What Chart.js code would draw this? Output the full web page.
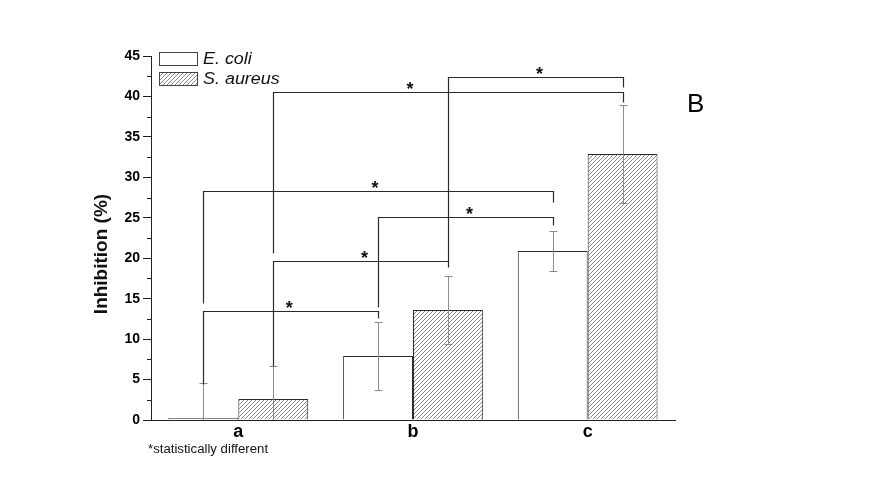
<!DOCTYPE html>
<html>
<head>
<meta charset="utf-8">
<script src="https://cdn.jsdelivr.net/npm/chart.js@4.4.0/dist/chart.umd.min.js"></script>
<style>
  html, body { margin: 0; padding: 0; background: #fff; }
  #wrap { width: 869px; height: 489px; position: relative; }
</style>
</head>
<body>
<div id="wrap"><canvas id="chart"></canvas></div>
<script>
// values
const categories = ['a', 'b', 'c'];
const seriesNames = ['E. coli', 'S. aureus'];
const ecoli = [0.25, 7.9, 20.9];
const saureus = [2.6, 13.6, 32.9];
const ecoliErr = [4.3, 4.2, 2.45];
const saureusErr = [4.1, 4.2, 6.1];

// significance brackets, each end is [dataset, category]
const bracketFrom = [[0, 0], [1, 0], [0, 1], [0, 0], [1, 0], [1, 1]];
const bracketTo = [[0, 1], [1, 1], [0, 2], [0, 2], [1, 2], [1, 2]];
const bracketLevel = [13.5, 19.6, 25.1, 28.35, 40.6, 42.35];
const bracketFromEnd = [4.5, 6.7, 14.0, 14.5, 20.6, 19.6];
const bracketToEnd = [12.6, 18.9, 24.1, 26.9, 39.3, 41.2];
const starAt = [0.49, 0.52, 0.52, 0.49, 0.39, 0.52];

const FONT = "'Liberation Sans', Arial, sans-serif";
const ERRS = [ecoliErr, saureusErr];

// hatch fill for S. aureus
function hatch() {
  const c = document.createElement('canvas');
  c.width = 4; c.height = 4;
  const g = c.getContext('2d');
  g.fillStyle = '#fff';
  g.fillRect(0, 0, 4, 4);
  g.strokeStyle = '#8a8a8a';
  g.lineWidth = 1;
  g.beginPath();
  g.moveTo(-1, 5); g.lineTo(5, -1);
  g.moveTo(-1, 1); g.lineTo(1, -1);
  g.moveTo(3, 5); g.lineTo(5, 3);
  g.stroke();
  return g.createPattern(c, 'repeat');
}
const hatchFill = hatch();

const errorBars = {
  id: 'errorBars',
  afterDatasetsDraw(chart) {
    const ctx = chart.ctx, y = chart.scales.y, area = chart.chartArea;
    ctx.save();
    ctx.beginPath();
    ctx.rect(area.left, area.top - 20, area.right - area.left, area.bottom - area.top + 20);
    ctx.clip();
    ctx.strokeStyle = '#8c8c8c';
    ctx.lineWidth = 1;
    chart.data.datasets.forEach((ds, i) => {
      chart.getDatasetMeta(i).data.forEach((el, j) => {
        const x = Math.round(el.x) + 0.5;
        const top = Math.round(y.getPixelForValue(ds.data[j] + ERRS[i][j])) + 0.5;
        const bot = Math.round(y.getPixelForValue(ds.data[j] - ERRS[i][j])) + 0.5;
        ctx.beginPath();
        ctx.moveTo(x, top); ctx.lineTo(x, bot);
        ctx.moveTo(x - 4, top); ctx.lineTo(x + 4, top);
        ctx.moveTo(x - 4, bot); ctx.lineTo(x + 4, bot);
        ctx.stroke();
      });
    });
    ctx.restore();
  }
};

const brackets = {
  id: 'brackets',
  afterDatasetsDraw(chart) {
    const ctx = chart.ctx, y = chart.scales.y;
    const px = (p) => Math.round(chart.getDatasetMeta(p[0]).data[p[1]].x) + 0.5;
    const py = (v) => Math.round(y.getPixelForValue(v)) + 0.5;
    ctx.save();
    ctx.strokeStyle = '#2a2a2a';
    ctx.lineWidth = 1.2;
    ctx.fillStyle = '#111';
    ctx.font = 'bold 18px ' + FONT;
    ctx.textAlign = 'center';
    ctx.textBaseline = 'alphabetic';
    bracketLevel.forEach((lv, k) => {
      const x1 = px(bracketFrom[k]), x2 = px(bracketTo[k]), yl = py(lv);
      ctx.beginPath();
      ctx.moveTo(x1, py(bracketFromEnd[k]));
      ctx.lineTo(x1, yl);
      ctx.lineTo(x2, yl);
      ctx.lineTo(x2, py(bracketToEnd[k]));
      ctx.stroke();
      ctx.fillText('*', x1 + (x2 - x1) * starAt[k], yl + 2);
    });
    ctx.restore();
  }
};

const extras = {
  id: 'extras',
  afterDraw(chart) {
    const ctx = chart.ctx, area = chart.chartArea, y = chart.scales.y;
    ctx.save();
    // minor ticks
    ctx.strokeStyle = '#222';
    ctx.lineWidth = 1;
    ctx.beginPath();
    for (let v = 2.5; v < 45; v += 5) {
      const yy = Math.round(y.getPixelForValue(v)) + 0.5;
      ctx.moveTo(area.left - 4, yy); ctx.lineTo(area.left, yy);
    }
    ctx.stroke();

    // legend
    chart.data.datasets.forEach((ds, i) => {
      const top = 52 + i * 20;
      ctx.fillStyle = ds.backgroundColor;
      ctx.fillRect(159, top, 38, 13);
      ctx.strokeStyle = '#444';
      ctx.strokeRect(159.5, top + 0.5, 38, 13);
      ctx.save();
      ctx.translate(203, top + 12);
      ctx.scale(1.12, 1);
      ctx.fillStyle = '#111';
      ctx.font = 'italic 16px ' + FONT;
      ctx.textAlign = 'left';
      ctx.fillText(ds.label, 0, 0);
      ctx.restore();
    });

    // axis title
    ctx.save();
    ctx.translate(107, 254);
    ctx.rotate(-Math.PI / 2);
    ctx.fillStyle = '#111';
    ctx.font = 'bold 19px ' + FONT;
    ctx.textAlign = 'center';
    ctx.fillText('Inhibition (%)', 0, 0);
    ctx.restore();

    // footnote
    ctx.save();
    ctx.translate(148, 453);
    ctx.scale(1.1, 1);
    ctx.fillStyle = '#111';
    ctx.font = '12px ' + FONT;
    ctx.textAlign = 'left';
    ctx.fillText('*statistically different', 0, 0);
    ctx.restore();

    // panel letter
    ctx.fillStyle = '#000';
    ctx.font = '26px ' + FONT;
    ctx.textAlign = 'left';
    ctx.fillText('B', 687, 112);
    ctx.restore();
  }
};

new Chart(document.getElementById('chart'), {
  type: 'bar',
  data: {
    labels: categories,
    datasets: [
      { label: seriesNames[0], data: ecoli, backgroundColor: '#fff', borderColor: '#2a2a2a', borderWidth: 1 },
      { label: seriesNames[1], data: saureus, backgroundColor: hatchFill, borderColor: '#2a2a2a', borderWidth: 1 }
    ]
  },
  options: {
    responsive: true,
    maintainAspectRatio: false,
    animation: false,
    layout: { padding: { top: 56, right: 194, bottom: 0, left: 0 } },
    plugins: { legend: { display: false }, tooltip: { enabled: false } },
    datasets: { bar: { categoryPercentage: 0.8, barPercentage: 1.0 } },
    scales: {
      x: {
        grid: { display: false, drawTicks: false },
        border: { display: true, color: '#222', width: 1 },
        ticks: { color: '#000', font: { family: FONT, size: 18, weight: 'bold' }, padding: 1 },
        afterFit(s) { s.height = 69; }
      },
      y: {
        min: 0, max: 45,
        ticks: { stepSize: 5, color: '#000', font: { family: FONT, size: 14, weight: 'bold' }, padding: 3 },
        grid: { display: true, drawOnChartArea: false, drawTicks: true, tickLength: 8, color: '#222', tickColor: '#222' },
        border: { display: true, color: '#222', width: 1 },
        afterFit(s) { s.width = 151; }
      }
    }
  },
  plugins: [errorBars, brackets, extras]
});
</script>
</body>
</html>
